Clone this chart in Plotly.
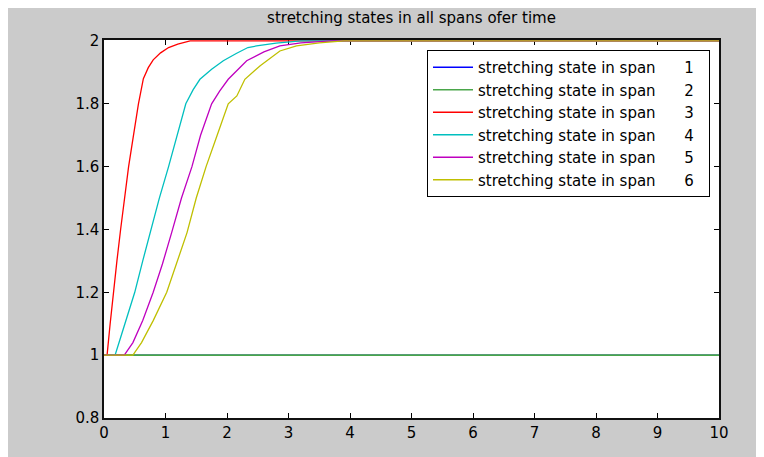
import plotly.graph_objects as go

# ---- data ----
names = ["stretching state in span\u00a0\u00a0\u00a0\u00a0\u00a0\u00a0%d\u00a0\u00a0" % i for i in range(1, 7)]
colors = ["#0000ff", "#4aa64a", "#ff0000", "#00bfbf", "#bf00bf", "#bfbf00"]

x1 = [0, 10]
y1 = [1, 1]
x2 = [0, 10]
y2 = [1, 1]
x3 = [0, 0.05, 0.10, 0.15, 0.21, 0.27, 0.33, 0.40, 0.48, 0.56, 0.64, 0.72, 0.80, 0.92, 1.05, 1.2, 1.4, 10]
y3 = [1, 1, 1.1, 1.2, 1.3, 1.4, 1.5, 1.6, 1.7, 1.8, 1.88, 1.915, 1.94, 1.962, 1.979, 1.99, 2, 2]
x4 = [0, 0.18, 0.26, 0.34, 0.42, 0.50, 0.63, 0.76, 0.90, 1.05, 1.19, 1.33, 1.45, 1.56, 1.75, 1.94, 2.15, 2.34, 2.48, 2.8, 3.2, 10]
y4 = [1, 1, 1.05, 1.1, 1.15, 1.2, 1.3, 1.4, 1.5, 1.6, 1.7, 1.8, 1.845, 1.878, 1.91, 1.937, 1.96, 1.979, 1.984, 1.993, 2, 2]
x5 = [0, 0.33, 0.47, 0.63, 0.80, 0.95, 1.10, 1.26, 1.43, 1.57, 1.75, 1.88, 2.02, 2.32, 2.6, 2.86, 3.2, 3.7, 10]
y5 = [1, 1, 1.04, 1.11, 1.2, 1.29, 1.39, 1.5, 1.6, 1.7, 1.8, 1.84, 1.878, 1.937, 1.965, 1.984, 1.994, 2, 2]
x6 = [0, 0.47, 0.61, 0.80, 1.02, 1.20, 1.35, 1.50, 1.66, 1.84, 2.02, 2.16, 2.29, 2.54, 2.86, 3.13, 3.5, 3.9, 10]
y6 = [1, 1, 1.04, 1.11, 1.2, 1.3, 1.39, 1.5, 1.6, 1.7, 1.8, 1.825, 1.878, 1.921, 1.968, 1.984, 1.994, 2, 2]

xs = [x1, x2, x3, x4, x5, x6]
ys = [y1, y2, y3, y4, y5, y6]

title_text = "stretching states in all spans ofer time"
xticks = list(range(0, 11))
yticks = [0.8, 1.0, 1.2, 1.4, 1.6, 1.8, 2.0]
ytick_labels = ["0.8", "1", "1.2", "1.4", "1.6", "1.8", "2"]

# ---- figure ----
W, H = 764, 457
L, R, T, B = 96, 53, 32, 47
pw, ph = W - L - R, H - T - B

def px2paper_x(px):
    return (px - L) / pw

def px2paper_y(py):
    return (H - B - py) / ph

fig = go.Figure()
for i in range(6):
    fig.add_trace(go.Scatter(
        x=xs[i], y=ys[i], mode="lines", name=names[i],
        line=dict(color=colors[i], width=1.3 if i != 1 else 1.6),
    ))

font_family = "DejaVu Sans"

fig.update_layout(
    width=W, height=H,
    margin=dict(l=L, r=R, t=T, b=B),
    paper_bgcolor="#cbcbcb",
    plot_bgcolor="white",
    title=dict(text=title_text, x=0.5, xref="paper", xanchor="center",
               y=1 - 10 / H, yref="container", yanchor="middle",
               font=dict(family=font_family, size=15, color="black")),
    showlegend=True,
    legend=dict(x=px2paper_x(419), y=px2paper_y(42), xanchor="left", yanchor="top",
                bgcolor="white", bordercolor="black", borderwidth=1,
                font=dict(family=font_family, size=15, color="black"),
                itemwidth=40),
)
fig.update_xaxes(range=[0, 10], tickvals=xticks, ticks="inside", ticklen=5,
                 tickcolor="black", showline=True, linecolor="#111", linewidth=1.5,
                 mirror="ticks", showgrid=False, zeroline=False, layer="below traces",
                 tickfont=dict(family=font_family, size=15, color="black"))
fig.update_yaxes(range=[0.8, 2.003], tickvals=yticks, ticktext=ytick_labels,
                 ticks="inside", ticklen=5, tickcolor="black", showline=True,
                 linecolor="#111", linewidth=1.5, mirror="ticks", showgrid=False,
                 zeroline=False, layer="below traces",
                 tickfont=dict(family=font_family, size=15, color="black"))

fig.write_html("out.html")
